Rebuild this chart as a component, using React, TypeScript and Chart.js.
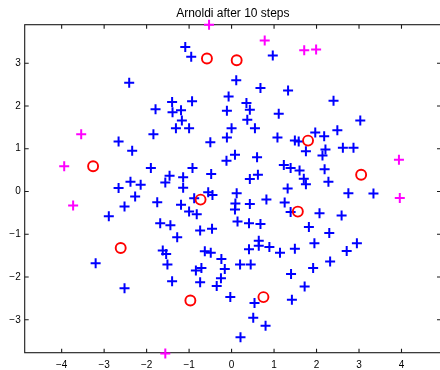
import React, { useEffect, useRef } from "react";
import { Chart, registerables } from "chart.js";

Chart.register(...registerables);

const titleText = "Arnoldi after 10 steps";
const xTicks = [-4, -3, -2, -1, 0, 1, 2, 3, 4];
const yTicks = [-3, -2, -1, 0, 1, 2, 3];
const xRange = [-4.87, 4.93];
const yRange = [-3.77, 3.9];

// red circles: Ritz values after 10 Arnoldi steps
const ritzValues: [number, number][] = [
  [-0.58, 3.11], [0.12, 3.07], [-3.26, 0.59], [1.8, 1.19], [3.05, 0.39],
  [-0.73, -0.19], [1.56, -0.47], [-2.61, -1.32], [-0.97, -2.55], [0.75, -2.47],
];

// magenta crosses: outlying eigenvalues
const outerEigs: [number, number][] = [
  [-0.53, 3.9], [0.78, 3.53], [1.71, 3.3], [1.99, 3.32], [-3.54, 1.34],
  [-3.94, 0.59], [-3.73, -0.33], [3.94, 0.74], [3.96, -0.15], [-1.56, -3.79],
];

// blue crosses: remaining eigenvalues
const innerEigs: [number, number][] = [
  [-1.09, 3.38], [-0.95, 3.15], [0.97, 3.18], [-2.41, 2.54], [0.11, 2.6],
  [0.68, 2.42], [1.33, 2.36], [-0.07, 2.22], [2.4, 2.12], [-1.4, 2.09],
  [-0.93, 2.11], [0.35, 2.07], [-1.79, 1.92], [-1.39, 1.85], [-1.19, 1.9],
  [-0.11, 1.89], [0.43, 1.91], [1.11, 1.82], [-1.17, 1.66], [0.37, 1.68],
  [3.03, 1.66], [-1.31, 1.48], [-1.0, 1.48], [0.0, 1.48], [0.55, 1.48],
  [1.97, 1.38], [2.49, 1.43], [-1.84, 1.34], [-0.11, 1.26], [1.08, 1.26],
  [2.18, 1.29], [-2.66, 1.17], [-0.5, 1.15], [1.49, 1.19], [1.58, 1.17],
  [-2.34, 0.95], [1.75, 0.94], [2.21, 0.98], [2.14, 0.84], [2.62, 1.02],
  [2.87, 1.02], [0.08, 0.86], [-0.12, 0.72], [0.6, 0.8], [-1.9, 0.55],
  [-0.92, 0.55], [1.23, 0.62], [1.39, 0.55], [1.6, 0.49], [2.19, 0.52],
  [-0.48, 0.41], [0.62, 0.39], [-1.46, 0.37], [-1.14, 0.33], [0.43, 0.29],
  [1.7, 0.3], [1.75, 0.17], [2.28, 0.23], [-1.56, 0.21], [-2.38, 0.23],
  [-2.14, 0.16], [-2.66, 0.08], [-1.14, 0.09], [1.32, 0.07], [-0.55, -0.02],
  [-0.45, -0.08], [0.12, -0.04], [2.75, -0.04], [3.34, -0.05], [-0.88, -0.16],
  [-2.27, -0.12], [-2.52, -0.35], [-1.75, -0.25], [-1.19, -0.31], [-1.0, -0.47],
  [-0.82, -0.53], [0.09, -0.28], [0.08, -0.42], [0.43, -0.29], [0.82, -0.19],
  [1.25, -0.26], [1.39, -0.48], [2.07, -0.51], [2.59, -0.56], [-2.89, -0.58],
  [-1.68, -0.74], [-1.44, -0.79], [0.14, -0.7], [0.41, -0.74], [0.68, -0.76],
  [1.82, -0.83], [-0.74, -0.91], [-0.46, -0.87], [2.3, -0.97], [-1.28, -1.07],
  [0.64, -1.15], [0.64, -1.27], [0.41, -1.35], [0.89, -1.3], [1.14, -1.43],
  [1.49, -1.34], [1.95, -1.21], [2.71, -1.39], [2.95, -1.21], [-1.62, -1.38],
  [-1.54, -1.46], [-0.63, -1.4], [-0.49, -1.43], [-0.24, -1.58], [-3.2, -1.68],
  [-1.51, -1.71], [-0.71, -1.79], [-0.84, -1.85], [-0.16, -1.81], [0.2, -1.71],
  [0.45, -1.71], [2.32, -1.64], [1.92, -1.79], [1.4, -1.93], [-0.25, -2.03],
  [-1.4, -2.1], [-0.74, -2.12], [-0.35, -2.21], [-2.52, -2.26], [1.72, -2.22],
  [-0.03, -2.47], [0.54, -2.61], [1.42, -2.53], [0.51, -2.95], [0.8, -3.14],
  [0.21, -3.41],
];

const FONT = "'Liberation Sans', Arial, Helvetica, sans-serif";
const fmt = (v: number) => (v < 0 ? "\u2212" + Math.abs(v) : String(v));

const framePlugin = {
  id: "matlabFrame",
  beforeDatasetsDraw(chart: any) {
    const { ctx, chartArea: a, scales } = chart;
    ctx.save();
    ctx.strokeStyle = "#1a1a1a";
    ctx.lineWidth = 1.1;
    ctx.strokeRect(a.left, a.top, a.right - a.left, a.bottom - a.top);
    ctx.beginPath();
    const tl = 4;
    xTicks.forEach((v) => {
      const p = scales.x.getPixelForValue(v);
      ctx.moveTo(p, a.bottom);
      ctx.lineTo(p, a.bottom - tl);
      ctx.moveTo(p, a.top);
      ctx.lineTo(p, a.top + tl);
    });
    yTicks.forEach((v) => {
      const p = scales.y.getPixelForValue(v);
      ctx.moveTo(a.left, p);
      ctx.lineTo(a.left + tl, p);
      ctx.moveTo(a.right, p);
      ctx.lineTo(a.right - tl, p);
    });
    ctx.stroke();
    ctx.restore();
  },
  afterDraw(chart: any) {
    const { ctx, chartArea: a } = chart;
    ctx.save();
    ctx.fillStyle = "#000";
    ctx.font = `12px ${FONT}`;
    ctx.textAlign = "center";
    ctx.textBaseline = "alphabetic";
    ctx.fillText(titleText, (a.left + a.right) / 2, 16.7);
    ctx.restore();
  },
};

export default function App() {
  const ref = useRef<HTMLCanvasElement>(null);
  useEffect(() => {
    if (!ref.current) return;
    const toPts = (arr: [number, number][]) => arr.map(([x, y]) => ({ x, y }));
    const chart = new Chart(ref.current, {
      type: "scatter",
      data: {
        datasets: [
          {
            label: "Ritz values",
            data: toPts(ritzValues),
            pointStyle: "circle",
            pointRadius: 5,
            pointBorderWidth: 1.9,
            borderColor: "#ff0000",
            backgroundColor: "rgba(0,0,0,0)",
            clip: false,
          } as any,
          {
            label: "outer",
            data: toPts(outerEigs),
            pointStyle: "cross",
            pointRadius: 5,
            pointBorderWidth: 2,
            borderColor: "#ff00ff",
            backgroundColor: "#ff00ff",
            clip: false,
          },
          {
            label: "eigenvalues",
            data: toPts(innerEigs),
            pointStyle: "cross",
            pointRadius: 5,
            pointBorderWidth: 2,
            borderColor: "#0000ff",
            backgroundColor: "#0000ff",
            clip: false,
          },
        ],
      },
      options: {
        responsive: false,
        animation: false,
        events: [],
        layout: { padding: { top: 24.7, right: 1, left: 0, bottom: 0 } },
        plugins: {
          legend: { display: false },
          title: { display: false },
          tooltip: { enabled: false },
        },
        scales: {
          x: {
            type: "linear",
            min: xRange[0],
            max: xRange[1],
            grid: { display: false, drawTicks: false },
            border: { display: false },
            afterBuildTicks: (s: any) => {
              s.ticks = xTicks.map((value) => ({ value }));
            },
            afterFit: (s: any) => {
              s.height = 370 - 352.7;
              s.paddingLeft = 0;
              s.paddingRight = 0;
            },
            ticks: {
              padding: 6.5,
              color: "#000",
              font: { family: FONT, size: 10 },
              callback: (v: any) => fmt(Number(v)),
              maxRotation: 0,
              autoSkip: false,
            },
          },
          y: {
            type: "linear",
            min: yRange[0],
            max: yRange[1],
            grid: { display: false, drawTicks: false },
            border: { display: false },
            afterBuildTicks: (s: any) => {
              s.ticks = yTicks.map((value) => ({ value }));
            },
            afterFit: (s: any) => {
              s.width = 24.7;
              s.paddingTop = 0;
              s.paddingBottom = 0;
            },
            ticks: {
              padding: 4,
              color: "#000",
              font: { family: FONT, size: 10 },
              callback: (v: any) => fmt(Number(v)),
              autoSkip: false,
            },
          },
        },
      },
      plugins: [framePlugin],
    });
    return () => chart.destroy();
  }, []);
  return (
    <div
      style={{
        position: "fixed",
        left: 0,
        top: 0,
        width: 440,
        height: 370,
        overflow: "hidden",
        background: "#fff",
      }}
    >
      <canvas
        ref={ref}
        width={448}
        height={370}
        style={{ display: "block", width: 448, height: 370 }}
      />
    </div>
  );
}
